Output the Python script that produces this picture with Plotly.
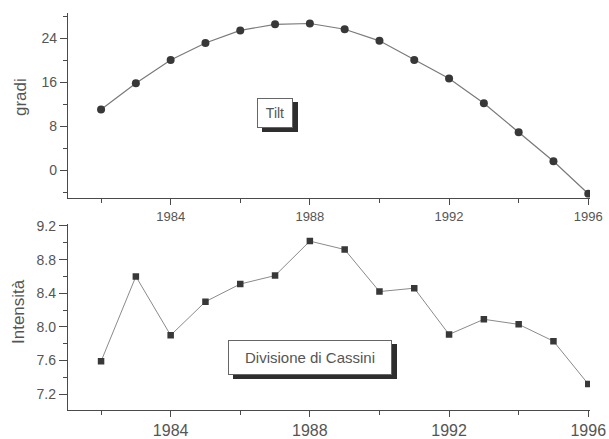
import plotly.graph_objects as go

# Anni di osservazione
anni = list(range(1982, 1997))

# Inclinazione degli anelli (gradi)
tilt = [11.0, 15.8, 20.0, 23.1, 25.4, 26.5, 26.65, 25.6, 23.5, 20.0, 16.65, 12.15, 6.9, 1.6, -4.3]

# Intensità della Divisione di Cassini
intensita = [7.59, 8.60, 7.90, 8.30, 8.51, 8.61, 9.02, 8.92, 8.42, 8.46, 7.91, 8.09, 8.03, 7.83, 7.32]

FONT = "Arial, Liberation Sans, sans-serif"
TXT = "#555555"
AXC = "#4a4a4a"
MARK = "#383838"
LINE = "#7a7a7a"
W, H = 609, 439

fig = go.Figure()

fig.add_trace(go.Scatter(
    x=anni, y=tilt, mode="lines+markers", xaxis="x", yaxis="y",
    line=dict(color=LINE, width=1.2),
    marker=dict(symbol="circle", size=8, color=MARK),
    showlegend=False,
))
fig.add_trace(go.Scatter(
    x=anni, y=intensita, mode="lines+markers", xaxis="x2", yaxis="y2",
    line=dict(color="#8a8a8a", width=1),
    marker=dict(symbol="square", size=6.5, color=MARK),
    showlegend=False,
))

xdom = [68 / W, 590 / W]
common_x = dict(
    range=[1981.05, 1996.05], tick0=1984, dtick=4, ticks="outside", ticklen=6,
    tickcolor=AXC, showline=True, linecolor=AXC, linewidth=1.4,
    showgrid=False, zeroline=False, domain=xdom, automargin=False,
    minor=dict(dtick=2, tick0=1984, ticks="outside", ticklen=4, tickcolor=AXC),
)

fig.update_layout(
    width=W, height=H,
    margin=dict(l=0, r=0, t=0, b=0),
    paper_bgcolor="white", plot_bgcolor="white",
    font=dict(family=FONT, color=TXT),
    xaxis=dict(common_x, anchor="y", tickfont=dict(size=13, color=TXT)),
    yaxis=dict(
        range=[-5.04, 28.65], tick0=0, dtick=8, ticks="outside", ticklen=7,
        tickcolor=AXC, showline=True, linecolor=AXC, linewidth=1.4,
        showgrid=False, zeroline=False, anchor="x", automargin=False,
        domain=[1 - 197.8 / H, 1 - 12.5 / H],
        tickfont=dict(size=14, color=TXT),
        minor=dict(dtick=4, tick0=0, ticks="outside", ticklen=4, tickcolor=AXC),
    ),
    xaxis2=dict(common_x, anchor="y2", tickfont=dict(size=16, color=TXT)),
    yaxis2=dict(
        range=[7.015, 9.22], tick0=7.2, dtick=0.4, tickformat=".1f",
        ticks="outside", ticklen=8, tickcolor=AXC, showline=True,
        linecolor=AXC, linewidth=1.4, showgrid=False, zeroline=False,
        anchor="x2", automargin=False, domain=[1 - 409.7 / H, 1 - 224.3 / H],
        tickfont=dict(size=14, color=TXT),
        minor=dict(dtick=0.2, tick0=7.2, ticks="outside", ticklen=4, tickcolor=AXC),
    ),
)

# Titoli degli assi verticali
for testo, xc, yc in [("gradi", 20.5, 97.5), ("Intensità", 18, 312)]:
    fig.add_annotation(text=testo, xref="paper", yref="paper", x=xc / W, y=1 - yc / H,
                       xanchor="center", yanchor="middle", textangle=-90, showarrow=False,
                       font=dict(size=17, color=TXT, family=FONT))


def etichetta(testo, x, y, w, h, pad, size):
    # ombra scura sotto il riquadro
    fig.add_annotation(text="&nbsp;", xref="paper", yref="paper", x=x, y=y, showarrow=False,
                       xanchor="center", yanchor="middle",
                       width=w, height=h, borderpad=pad, borderwidth=1,
                       bgcolor="#2e2e2e", bordercolor="#2e2e2e",
                       font=dict(size=size, color="#2e2e2e", family=FONT),
                       xshift=5, yshift=-4)
    # riquadro con testo
    fig.add_annotation(text=testo, xref="paper", yref="paper", x=x, y=y, showarrow=False,
                       xanchor="center", yanchor="middle",
                       width=w, height=h, borderpad=pad, borderwidth=1,
                       bgcolor="white", bordercolor="#666666",
                       font=dict(size=size, color=TXT, family=FONT))


etichetta("Tilt", 274.7 / W, 1 - 113 / H, 22, 16, 6, 14)
etichetta("Divisione di Cassini", 309.9 / W, 1 - 357.5 / H, 148, 19, 7, 15)

fig.write_html("out.html")
